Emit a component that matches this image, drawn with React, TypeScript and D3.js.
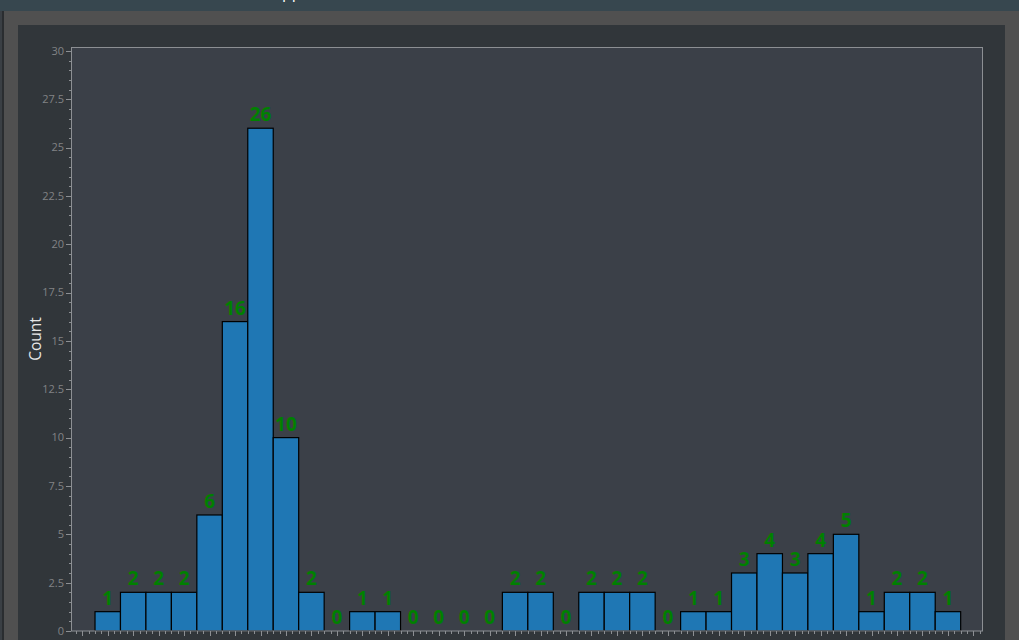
import React from "react";
import * as d3 from "d3";

const counts: number[] = [1, 2, 2, 2, 6, 16, 26, 10, 2, 0, 1, 1, 0, 0, 0, 0, 2, 2, 0, 2, 2, 2, 0, 1, 1, 3, 4, 3, 4, 5, 1, 2, 2, 1];
const yMajorTicks: number[] = [0, 2.5, 5, 7.5, 10, 12.5, 15, 17.5, 20, 22.5, 25, 27.5, 30];
const yLabel = "Count";

const W = 1019;
const H = 640;
const plot = { left: 71, right: 983, top: 47, bottom: 631 };

export default function App() {
  const x = d3.scaleLinear().domain([-0.943, 34.877]).range([plot.left, plot.right]);
  const y = d3.scaleLinear().domain([0, 30.2]).range([plot.bottom, plot.top]);

  const yMinor = d3.range(0, 30.01, 0.5);
  const xMajor = d3.range(-1, 35).map((i) => i + 0.5).filter((v) => x(v) <= plot.right);
  const xMinor = d3.range(-0.75, 34.9, 0.25).filter((v) => x(v) >= plot.left && x(v) <= plot.right);
  const fmt = d3.format("~g");

  return (
    <svg width={W} height={H} style={{ position: "absolute", left: 0, top: 0 }} xmlns="http://www.w3.org/2000/svg">
      {/* window chrome */}
      <rect x={0} y={0} width={W} height={H} fill="#3a3f44" />
      <rect x={0} y={0} width={W} height={11} fill="#37474f" />
      <text x={282} y={-2} fill="#ffffff" fontFamily="Open Sans" fontSize={16}>pp</text>
      <rect x={3} y={11} width={W - 3} height={H - 11} fill="#505050" />
      <rect x={2} y={11} width={2} height={H - 11} fill="#2a2d30" />
      <rect x={18} y={25} width={1005 - 18} height={H - 25} fill="#31363a" />
      {/* plot area */}
      <rect x={plot.left} y={plot.top} width={plot.right - plot.left} height={plot.bottom - plot.top} fill="#3b4048" />

      {/* bars */}
      {counts.map((v, i) =>
        v > 0 ? (
          <rect
            key={"b" + i}
            x={x(i)}
            y={y(v)}
            width={x(i + 1) - x(i)}
            height={y(0) - y(v)}
            fill="#1f77b4"
            stroke="#000000"
            strokeWidth={1.2}
          />
        ) : null
      )}

      {/* value labels */}
      {counts.map((v, i) => (
        <text
          key={"t" + i}
          x={(x(i) + x(i + 1)) / 2}
          y={y(v) - 7}
          textAnchor="middle"
          fill="#008000"
          fontFamily="Open Sans"
          fontWeight="bold"
          fontSize={19}
        >
          {v}
        </text>
      ))}

      {/* border */}
      <rect
        x={plot.left + 0.5}
        y={plot.top + 0.5}
        width={plot.right - plot.left - 1}
        height={plot.bottom - plot.top - 0.5}
        fill="none"
        stroke="#8c8f93"
        strokeWidth={1}
      />

      {/* y axis ticks */}
      {yMinor.map((v, i) => (
        <line key={"ym" + i} x1={plot.left - 2} x2={plot.left} y1={Math.round(y(v)) + 0.5} y2={Math.round(y(v)) + 0.5} stroke="#8c8f93" />
      ))}
      {yMajorTicks.map((v, i) => (
        <g key={"yM" + i}>
          <line x1={plot.left - 5} x2={plot.left} y1={Math.round(y(v)) + 0.5} y2={Math.round(y(v)) + 0.5} stroke="#8c8f93" />
          <text x={plot.left - 7} y={y(v)} dy="0.35em" textAnchor="end" fill="#818385" fontFamily="Open Sans" fontSize={11}>
            {fmt(v)}
          </text>
        </g>
      ))}

      {/* x axis ticks */}
      {xMinor.map((v, i) => (
        <line key={"xm" + i} x1={Math.round(x(v)) + 0.5} x2={Math.round(x(v)) + 0.5} y1={plot.bottom} y2={plot.bottom + 3} stroke="#8c8f93" />
      ))}
      {xMajor.map((v, i) => (
        <line key={"xM" + i} x1={Math.round(x(v)) + 0.5} x2={Math.round(x(v)) + 0.5} y1={plot.bottom} y2={plot.bottom + 5} stroke="#8c8f93" />
      ))}

      {/* y label */}
      <text
        transform={`translate(41, 339) rotate(-90)`}
        textAnchor="middle"
        fill="#e6e6e6"
        fontFamily="Open Sans"
        fontSize={15.5}
      >
        {yLabel}
      </text>
    </svg>
  );
}
